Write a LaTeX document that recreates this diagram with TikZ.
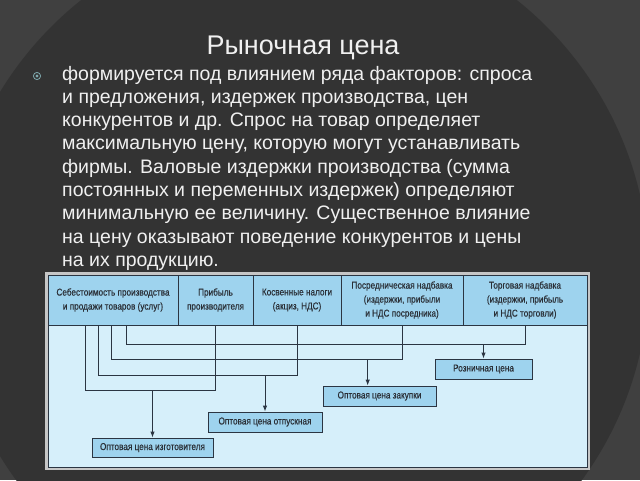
\documentclass[tikz,border=0pt]{standalone}
\usepackage{fontspec}
\setmainfont{Liberation Sans}
\newfontfamily\diag[FakeStretch=0.82,FakeBold=0.35]{Liberation Sans}
\usetikzlibrary{arrows.meta,calc}
\definecolor{bgA}{HTML}{404040}
\definecolor{bgB}{HTML}{333333}
\definecolor{hfill}{HTML}{9ED3EE}
\definecolor{bfill}{HTML}{D6EFFA}
\definecolor{bord}{HTML}{2B3542}
\definecolor{dtext}{HTML}{2A2F36}
\definecolor{bul}{HTML}{7FA9AE}
\definecolor{wtext}{HTML}{F0F0F0}
\tikzset{
  hcell/.style={draw=bord, fill=hfill, line width=0.9pt, minimum height=50pt, inner sep=0pt,
    align=center, text=dtext, font=\diag\fontsize{10}{14}\selectfont},
  obox/.style={draw=bord, fill=hfill, line width=0.9pt, minimum height=20pt, inner sep=0pt,
    align=center, text=dtext, font=\diag\fontsize{10}{12}\selectfont},
  conn/.style={draw=bord, line width=0.9pt},
  arr/.style={conn, -{Latex[length=6pt,width=4.5pt]}},
  bodyline/.style={anchor=base west, inner sep=0pt, text=wtext, font=\fontsize{19.5}{23}\selectfont}
}
\begin{document}
\begin{tikzpicture}[x=1pt,y=-1pt]
\useasboundingbox (0,0) rectangle (640,480);
\fill[bgA] (0,0) rectangle (640,480);
\begin{scope}
  \clip (0,0) rectangle (640,480);
  \fill[bgB] (299,274) circle[radius=350pt];
\end{scope}
% title
\node[anchor=base, inner sep=0pt, text=wtext, font=\fontsize{27}{30}\selectfont] (title) at (303,54) {Рыночная цена};
% bullet
\draw[bul, line width=0.8pt] (37,76) circle[radius=3.6pt];
\fill[bul] (37,76) circle[radius=1.6pt];
% body text
\node[bodyline] (t1) at (62,80) {формируется под влиянием ряда факторов: спроса};
\node[bodyline] (t2) at (62,103.3) {и предложения, издержек производства, цен};
\node[bodyline] (t3) at (62,126.6) {конкурентов и др. Спрос на товар определяет};
\node[bodyline] (t4) at (62,149.9) {максимальную цену, которую могут устанавливать};
\node[bodyline] (t5) at (62,173.2) {фирмы. Валовые издержки производства (сумма};
\node[bodyline] (t6) at (62,196.5) {постоянных и переменных издержек) определяют};
\node[bodyline] (t7) at (62,219.8) {минимальную ее величину. Существенное влияние};
\node[bodyline] (t8) at (62,243.1) {на цену оказывают поведение конкурентов и цены};
\node[bodyline] (t9) at (62,266.4) {на их продукцию.};
% panel
\draw[gray!45, line width=2.2pt] (46.5,273.5) rectangle (588.5,468.5);
\node[draw=bord, fill=bfill, line width=0.9pt, minimum width=539pt, minimum height=192pt, inner sep=0pt] (panel) at (317.5,371) {};
% header cells
\node[hcell, minimum width=130pt] (h1) at (113,300) {Себестоимость производства\\и продажи товаров (услуг)};
\node[hcell, minimum width=75pt] (h2) at (215.5,300) {Прибыль\\производителя};
\node[hcell, minimum width=88pt] (h3) at (297,300) {Косвенные налоги\\(акциз, НДС)};
\node[hcell, minimum width=122pt] (h4) at (402,300) {Посредническая надбавка\\(издержки, прибыли\\и НДС посредника)};
\node[hcell, minimum width=124pt] (h5) at (525,300) {Торговая надбавка\\(издержки, прибыль\\и НДС торговли)};
% output boxes
\node[obox, minimum width=121pt, minimum height=19pt] (o1) at (152.5,447.5) {Оптовая цена изготовителя};
\node[obox, minimum width=114pt] (o2) at (265,422) {Оптовая цена отпускная};
\node[obox, minimum width=113pt] (o3) at (379.5,396) {Оптовая цена закупки};
\node[obox, minimum width=97pt] (o4) at (483.5,369) {Розничная цена};
% levels
\coordinate (lA) at (0,390);
\coordinate (lB) at (0,375);
\coordinate (lC) at (0,359);
\coordinate (lD) at (0,344);
\coordinate (s1) at ([xshift=-27.3pt]h1.south);
\coordinate (s2) at ([xshift=-14.7pt]h1.south);
\coordinate (s3) at ([xshift=-1.3pt]h1.south);
\coordinate (s4) at ([xshift=13pt]h1.south);
\coordinate (o3in) at ([xshift=-11.8pt]o3.north);
% connectors
\draw[conn] (s1) |- (lA -| h2.south) -- (h2.south);
\draw[conn] (s2) |- (lB -| h3.south) -- (h3.south);
\draw[conn] (s3) |- (lC -| h4.south) -- (h4.south);
\draw[conn] (s4) |- (lD -| h5.south) -- (h5.south);
\draw[arr] (lA -| o1.north) -- (o1.north);
\draw[arr] (lB -| o2.north) -- (o2.north);
\draw[arr] (lC -| o3in) -- (o3in);
\draw[arr] (lD -| o4.north) -- (o4.north);
\end{tikzpicture}
\end{document}
